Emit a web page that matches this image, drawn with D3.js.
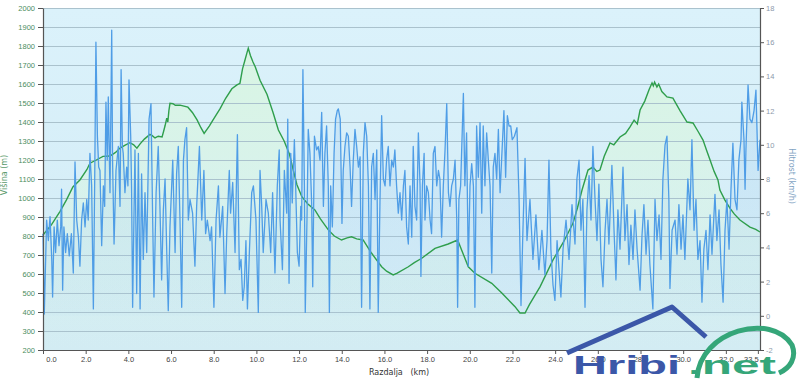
<!DOCTYPE html>
<html>
<head>
<meta charset="utf-8">
<script src="https://cdn.jsdelivr.net/npm/d3@7"></script>
<style>
body { margin: 0; background: #fff; }
svg { display: block; font-family: "DejaVu Sans", Verdana, sans-serif; }
</style>
</head>
<body>
<div id="chart"></div>
<script>
// elevation profile: [distance km, height m]
var elevation = [
	[0.00, 805], [0.40, 860], [0.80, 930], [1.10, 990], [1.40, 1058], [1.73, 1095], [2.06, 1150], [2.20, 1183],
	[2.50, 1200], [2.81, 1219], [3.14, 1221], [3.40, 1240], [3.61, 1263], [3.85, 1278], [4.08, 1291], [4.25, 1280],
	[4.40, 1262], [4.55, 1285], [4.75, 1310], [5.01, 1335], [5.12, 1328], [5.25, 1316], [5.40, 1325], [5.58, 1321],
	[5.65, 1350], [5.72, 1380], [5.80, 1420], [5.85, 1400], [5.90, 1460], [5.95, 1498], [6.09, 1496], [6.20, 1488],
	[6.42, 1489], [6.79, 1478], [7.00, 1450], [7.22, 1411], [7.40, 1370], [7.55, 1340], [7.80, 1380], [7.97, 1411],
	[8.30, 1470], [8.56, 1525], [8.85, 1575], [9.09, 1595], [9.23, 1604], [9.35, 1680], [9.45, 1720], [9.56, 1765],
	[9.62, 1788], [9.72, 1750], [9.84, 1716], [9.95, 1690], [10.17, 1620], [10.50, 1545], [10.78, 1450], [11.03, 1358],
	[11.30, 1300], [11.55, 1230], [11.72, 1150], [11.90, 1070], [12.13, 1007], [12.40, 970], [12.74, 937], [13.00, 890],
	[13.37, 832], [13.65, 800], [13.99, 779], [14.25, 790], [14.46, 796], [14.70, 785], [15.00, 779], [15.40, 709],
	[15.87, 638], [16.10, 615], [16.41, 595], [16.60, 605], [17.12, 638], [17.40, 660], [17.75, 683], [18.37, 735],
	[18.99, 758], [19.43, 779], [19.93, 638], [20.24, 604], [21.03, 551], [21.50, 500], [22.12, 428], [22.35, 395],
	[22.59, 395], [22.80, 440], [23.29, 532], [23.90, 674], [24.40, 770], [24.84, 868], [25.05, 950], [25.26, 1042],
	[25.54, 1147], [25.77, 1163], [25.95, 1140], [26.10, 1147], [26.30, 1220], [26.57, 1290], [26.75, 1280], [27.04, 1321],
	[27.30, 1340], [27.51, 1374], [27.70, 1410], [27.85, 1390], [27.98, 1463], [28.20, 1510], [28.40, 1570], [28.54, 1605],
	[28.60, 1590], [28.66, 1610], [28.77, 1584], [28.85, 1600], [29.00, 1560], [29.24, 1532], [29.52, 1526], [29.85, 1460],
	[30.18, 1400], [30.46, 1395], [30.70, 1350], [30.93, 1305], [31.10, 1250], [31.26, 1200], [31.45, 1140], [31.63, 1095],
	[31.72, 1042], [31.95, 990], [32.19, 947], [32.40, 915], [32.66, 884], [33.13, 847], [33.40, 835], [33.60, 821]
];

// speed: [distance km, km/h]
var speed = [
	[0.00, 4.8], [0.06, 0.1], [0.17, 5.6], [0.25, 4.4], [0.33, 5.8], [0.41, 3.3], [0.45, 1.1], [0.52, 5.2],
	[0.59, 3.7], [0.67, 5.6], [0.75, 4.1], [0.83, 5.2], [0.87, 7.4], [0.92, 1.5], [0.98, 5.2], [1.06, 3.7],
	[1.14, 4.8], [1.23, 3.5], [1.33, 4.8], [1.42, 2.5], [1.50, 9.0], [1.58, 5.6], [1.66, 4.6], [1.73, 2.9],
	[1.81, 5.6], [1.89, 6.6], [1.97, 5.2], [2.05, 6.8], [2.12, 5.6], [2.20, 9.5], [2.28, 7.6], [2.36, 0.4],
	[2.42, 7.6], [2.48, 16.0], [2.55, 10.5], [2.61, 8.7], [2.67, 8.5], [2.75, 4.1], [2.83, 7.6], [2.89, 6.4],
	[2.95, 12.5], [3.01, 9.1], [3.06, 12.8], [3.14, 7.2], [3.22, 16.7], [3.26, 9.1], [3.33, 4.2], [3.42, 8.5],
	[3.53, 9.9], [3.61, 6.4], [3.66, 14.4], [3.72, 9.9], [3.76, 9.5], [3.84, 7.2], [3.92, 8.7], [3.98, 7.6],
	[4.03, 13.8], [4.11, 10.5], [4.15, 7.6], [4.20, 0.5], [4.26, 5.6], [4.31, 9.7], [4.39, 1.3], [4.47, 9.5],
	[4.55, 0.4], [4.62, 8.3], [4.70, 3.3], [4.78, 7.2], [4.86, 3.7], [4.97, 11.5], [5.06, 12.4], [5.14, 5.6],
	[5.20, 1.1], [5.30, 7.2], [5.40, 9.9], [5.48, 6.4], [5.56, 2.1], [5.64, 6.2], [5.72, 8.0], [5.80, 3.7],
	[5.87, 0.3], [5.95, 5.2], [6.08, 9.1], [6.19, 3.7], [6.26, 8.3], [6.34, 9.9], [6.42, 5.6], [6.50, 0.5],
	[6.58, 9.1], [6.65, 10.3], [6.73, 11.0], [6.81, 5.6], [6.89, 6.8], [7.01, 6.0], [7.12, 2.9], [7.20, 6.4],
	[7.33, 9.9], [7.44, 5.6], [7.54, 8.5], [7.62, 4.8], [7.70, 5.6], [7.83, 4.4], [7.90, 5.2], [8.01, 0.5],
	[8.11, 5.6], [8.22, 7.6], [8.29, 4.6], [8.42, 6.4], [8.53, 1.3], [8.61, 4.8], [8.73, 8.5], [8.79, 6.0],
	[8.89, 7.8], [9.00, 3.7], [9.11, 10.6], [9.20, 2.7], [9.28, 3.3], [9.36, 0.9], [9.43, 1.7], [9.51, 4.4],
	[9.58, 0.4], [9.67, 3.7], [9.78, 7.2], [9.86, 7.6], [9.98, 5.6], [10.09, 0.2], [10.17, 8.5], [10.25, 6.4],
	[10.32, 3.7], [10.45, 6.8], [10.56, 6.0], [10.67, 3.7], [10.76, 7.2], [10.87, 2.5], [10.98, 7.6], [11.07, 9.7],
	[11.11, 5.6], [11.22, 2.7], [11.31, 8.5], [11.42, 6.0], [11.47, 11.5], [11.53, 1.9], [11.61, 9.5], [11.68, 6.6],
	[11.78, 10.3], [11.84, 7.6], [11.92, 3.7], [12.00, 2.9], [12.08, 6.4], [12.12, 5.6], [12.18, 14.4], [12.25, 7.6],
	[12.29, 0.2], [12.37, 5.6], [12.43, 10.9], [12.51, 9.5], [12.59, 6.6], [12.64, 1.7], [12.72, 10.5], [12.82, 9.7],
	[12.90, 9.9], [12.98, 9.1], [13.06, 11.9], [13.14, 6.4], [13.21, 9.5], [13.29, 11.1], [13.37, 7.6], [13.42, 0.2],
	[13.48, 7.6], [13.56, 5.2], [13.64, 9.5], [13.71, 11.5], [13.79, 12.0], [13.84, 12.1], [13.93, 11.5], [14.01, 5.4],
	[14.07, 8.5], [14.15, 9.9], [14.23, 10.7], [14.31, 10.5], [14.39, 8.7], [14.46, 6.4], [14.54, 9.1], [14.62, 10.9],
	[14.70, 9.9], [14.78, 8.7], [14.86, 9.3], [14.93, 0.5], [15.01, 9.5], [15.09, 11.3], [15.17, 10.5], [15.25, 7.6],
	[15.32, 0.4], [15.40, 8.7], [15.48, 9.5], [15.56, 6.8], [15.64, 9.7], [15.71, 0.2], [15.79, 6.6], [15.87, 11.7],
	[15.95, 8.0], [16.03, 7.6], [16.10, 9.1], [16.18, 9.9], [16.26, 7.6], [16.34, 9.1], [16.42, 8.7], [16.49, 9.7],
	[16.57, 7.6], [16.65, 6.0], [16.73, 7.2], [16.81, 5.6], [16.89, 7.6], [16.96, 8.5], [17.04, 5.2], [17.12, 4.2],
	[17.20, 7.6], [17.28, 4.6], [17.35, 9.9], [17.43, 6.4], [17.51, 5.6], [17.59, 10.7], [17.67, 7.6], [17.71, 2.3],
	[17.78, 7.6], [17.86, 9.5], [17.90, 5.6], [17.98, 7.6], [18.06, 7.2], [18.14, 5.6], [18.21, 4.8], [18.29, 9.5],
	[18.37, 9.9], [18.45, 7.6], [18.53, 8.5], [18.60, 8.0], [18.68, 4.6], [18.76, 7.6], [18.84, 9.7], [18.92, 12.4],
	[19.00, 7.2], [19.07, 6.4], [19.15, 7.6], [19.23, 8.0], [19.31, 9.1], [19.39, 5.6], [19.43, 0.5], [19.49, 6.8],
	[19.57, 7.6], [19.62, 9.7], [19.70, 13.0], [19.77, 7.6], [19.85, 10.7], [19.93, 2.9], [20.01, 7.6], [20.09, 8.9],
	[20.17, 7.6], [20.24, 0.5], [20.32, 11.1], [20.40, 8.1], [20.48, 11.3], [20.56, 6.0], [20.63, 11.1], [20.71, 7.6],
	[20.79, 10.7], [20.87, 9.1], [20.95, 7.6], [21.03, 2.5], [21.10, 8.7], [21.18, 9.5], [21.26, 8.0], [21.34, 10.9],
	[21.42, 7.2], [21.49, 9.1], [21.60, 12.0], [21.68, 8.1], [21.76, 11.7], [21.84, 11.1], [21.92, 11.1], [21.99, 10.3],
	[22.09, 10.5], [22.21, 11.0], [22.31, 6.8], [22.40, 0.6], [22.49, 5.0], [22.59, 9.2], [22.68, 4.4], [22.82, 6.8],
	[22.96, 3.3], [23.10, 5.9], [23.24, 2.7], [23.38, 5.0], [23.52, 2.4], [23.62, 4.4], [23.71, 9.1], [23.80, 3.9],
	[23.90, 1.8], [23.99, 0.9], [24.09, 4.4], [24.18, 2.7], [24.27, 1.1], [24.37, 3.9], [24.51, 5.6], [24.65, 3.3],
	[24.79, 6.5], [24.93, 4.2], [25.02, 8.0], [25.12, 9.1], [25.21, 5.0], [25.30, 6.8], [25.40, 0.5], [25.49, 6.2],
	[25.59, 8.2], [25.68, 5.6], [25.77, 9.9], [25.87, 6.8], [25.96, 4.4], [26.05, 7.7], [26.15, 3.3], [26.24, 1.7],
	[26.34, 5.0], [26.43, 6.8], [26.52, 4.2], [26.66, 8.8], [26.76, 5.0], [26.85, 2.1], [26.94, 6.2], [27.04, 3.9],
	[27.18, 8.7], [27.27, 4.4], [27.37, 6.5], [27.46, 3.0], [27.55, 5.3], [27.65, 3.3], [27.74, 6.2], [27.84, 3.9],
	[27.98, 1.5], [28.07, 4.7], [28.16, 6.5], [28.26, 3.6], [28.35, 5.6], [28.44, 3.0], [28.58, 0.4], [28.68, 6.8],
	[28.77, 4.4], [28.87, 5.9], [28.96, 3.3], [29.05, 8.0], [29.15, 10.0], [29.24, 10.5], [29.33, 6.8], [29.38, 1.6],
	[29.48, 5.0], [29.62, 5.6], [29.71, 3.6], [29.80, 6.5], [29.90, 3.9], [29.99, 5.9], [30.08, 3.3], [30.22, 8.0],
	[30.32, 6.2], [30.41, 10.3], [30.51, 5.0], [30.60, 6.8], [30.69, 3.3], [30.79, 4.4], [30.88, 0.8], [30.97, 3.9],
	[31.07, 5.0], [31.16, 2.7], [31.26, 5.9], [31.35, 3.6], [31.49, 7.1], [31.58, 4.4], [31.68, 6.2], [31.77, 3.0],
	[31.87, 0.8], [31.96, 5.0], [32.05, 6.8], [32.15, 3.9], [32.24, 7.4], [32.33, 10.1], [32.43, 6.8], [32.52, 6.2],
	[32.61, 9.1], [32.71, 10.3], [32.75, 12.5], [32.85, 10.3], [32.90, 7.4], [32.94, 9.7], [33.04, 13.5], [33.13, 11.5],
	[33.22, 11.3], [33.32, 12.0], [33.41, 13.2], [33.51, 8.5], [33.60, 10.3]
];

var elevTicks = d3.range(200, 2001, 100);
var speedTicks = d3.range(-2, 19, 2);
var distTicks = d3.range(0, 33, 2).concat([33.5]);

var W = 800, H = 379;
var plot = { left: 43, right: 760, top: 8, bottom: 350 };

var svg = d3.select("#chart").append("svg")
	.attr("width", W)
	.attr("height", H);

var x = d3.scaleLinear().domain([0, 33.6]).range([plot.left, plot.right]);
var yElev = d3.scaleLinear().domain([200, 2000]).range([plot.bottom, plot.top]);
var ySpeed = d3.scaleLinear().domain([-2, 18]).range([plot.bottom, plot.top]);

// gradients
var defs = svg.append("defs");
var bg = defs.append("linearGradient").attr("id", "bg").attr("x1", 0).attr("y1", 0).attr("x2", 0).attr("y2", 1);
bg.append("stop").attr("offset", "0%").attr("stop-color", "#dbf2fb");
bg.append("stop").attr("offset", "100%").attr("stop-color", "#d2ebf5");

var gFill = defs.append("linearGradient").attr("id", "gfill").attr("x1", 0).attr("y1", 0).attr("x2", 0).attr("y2", 1);
gFill.append("stop").attr("offset", "0%").attr("stop-color", "#d9f5e2").attr("stop-opacity", 0.95);
gFill.append("stop").attr("offset", "100%").attr("stop-color", "#d9f5e2").attr("stop-opacity", 0.1);

var bFill = defs.append("linearGradient").attr("id", "bfill").attr("x1", 0).attr("y1", 0).attr("x2", 0).attr("y2", 1);
bFill.append("stop").attr("offset", "0%").attr("stop-color", "#9cc8ee").attr("stop-opacity", 0.35);
bFill.append("stop").attr("offset", "100%").attr("stop-color", "#9cc8ee").attr("stop-opacity", 0.05);

svg.append("rect")
	.attr("x", plot.left)
	.attr("y", plot.top)
	.attr("width", plot.right - plot.left)
	.attr("height", plot.bottom - plot.top)
	.attr("fill", "url(#bg)");

// elevation area under line
var elevArea = d3.area()
	.x(function(d) { return x(d[0]); })
	.y0(plot.bottom)
	.y1(function(d) { return yElev(d[1]); });

svg.append("path")
	.datum(elevation)
	.attr("d", elevArea)
	.attr("fill", "url(#gfill)");

// Gridlines
var grid = d3.axisLeft(yElev)
	.tickValues(elevTicks)
	.tickFormat("")
	.tickSize(-(plot.right - plot.left));

svg.append("g")
	.attr("class", "grid")
	.attr("transform", "translate(" + plot.left + ",0)")
	.call(grid)
	.call(function(g) { g.select(".domain").remove(); })
	.selectAll("line")
	.attr("stroke", "#aac2cd")
	.attr("stroke-width", 1);

// speed
var speedArea = d3.area()
	.x(function(d) { return x(d[0]); })
	.y0(ySpeed(0))
	.y1(function(d) { return ySpeed(d[1]); });

svg.append("path")
	.datum(speed)
	.attr("d", speedArea)
	.attr("fill", "url(#bfill)");

var elevLine = d3.line()
	.x(function(d) { return x(d[0]); })
	.y(function(d) { return yElev(d[1]); });

svg.append("path")
	.datum(elevation)
	.attr("d", elevLine)
	.attr("fill", "none")
	.attr("stroke", "#2f9e4c")
	.attr("stroke-width", 1.4);

var speedLine = d3.line()
	.x(function(d) { return x(d[0]); })
	.y(function(d) { return ySpeed(d[1]); });

svg.append("path")
	.datum(speed)
	.attr("d", speedLine)
	.attr("fill", "none")
	.attr("stroke", "#4f9de6")
	.attr("stroke-width", 1.3)
	.attr("stroke-linejoin", "round");

// Axis
var axisColor = "#555";

var leftAxis = svg.append("g")
	.attr("transform", "translate(" + plot.left + ",0)")
	.call(d3.axisLeft(yElev).tickValues(elevTicks).tickSize(5).tickPadding(3).tickSizeOuter(0)
		.tickFormat(function(d) { return String(d); }));
leftAxis.selectAll("text").attr("fill", "#4b8d5d").style("font-size", "7.5px");

var rightAxis = svg.append("g")
	.attr("transform", "translate(" + plot.right + ",0)")
	.call(d3.axisRight(ySpeed).tickValues(speedTicks).tickSize(4).tickPadding(2).tickSizeOuter(0)
		.tickFormat(function(d) { return String(d); }));
rightAxis.selectAll("text").attr("fill", "#8c9aab").style("font-size", "7.5px");

var bottomAxis = svg.append("g")
	.attr("transform", "translate(0," + plot.bottom + ")")
	.call(d3.axisBottom(x).tickValues(distTicks).tickSize(4).tickPadding(3).tickSizeOuter(0)
		.tickFormat(d3.format(".1f")));
bottomAxis.selectAll("text").attr("fill", "#444").style("font-size", "7.5px")
	.attr("dx", function(d) { return d === 0 ? 8 : (d === 33.5 ? -7 : 0); });

[leftAxis, rightAxis, bottomAxis].forEach(function(a) {
	a.select(".domain").attr("stroke", axisColor).attr("stroke-width", 1.2);
	a.selectAll(".tick line").attr("stroke", axisColor);
});

// axis titles
svg.append("text")
	.attr("transform", "translate(7,175) rotate(-90)")
	.attr("text-anchor", "middle")
	.attr("fill", "#5a9a6c")
	.style("font-size", "8px")
	.text("Višina (m)");

svg.append("text")
	.attr("transform", "translate(789,176) rotate(90)")
	.attr("text-anchor", "middle")
	.attr("fill", "#7fa3c3")
	.style("font-size", "8px")
	.text("Hitrost (km/h)");

svg.append("text")
	.attr("x", 399)
	.attr("y", 375)
	.attr("text-anchor", "middle")
	.attr("fill", "#333")
	.style("font-size", "8px")
	.style("white-space", "pre")
	.attr("xml:space", "preserve")
	.text("Razdalja   (km)");

// Hribi.net watermark
var logo = svg.append("g");
logo.append("path")
	.attr("d", "M567,353 L672,307 L706,337")
	.attr("fill", "none")
	.attr("stroke", "#3b57a8")
	.attr("stroke-width", 5)
	.attr("stroke-linejoin", "round");
logo.append("path")
	.attr("d", "M697,378 C700,330 772,312 792,345 C797,358 790,368 779,373")
	.attr("fill", "none")
	.attr("stroke", "#35a679")
	.attr("stroke-width", 5);
logo.append("text")
	.attr("x", 573).attr("y", 374)
	.attr("textLength", 107).attr("lengthAdjust", "spacingAndGlyphs")
	.attr("fill", "#3b57a8")
	.style("font-family", "'Liberation Sans', Arial, sans-serif")
	.style("font-weight", "bold")
	.style("font-size", "26px")
	.text("Hribi");
logo.append("text")
	.attr("x", 688).attr("y", 374)
	.attr("textLength", 88).attr("lengthAdjust", "spacingAndGlyphs")
	.attr("fill", "#35a679")
	.style("font-family", "'Liberation Sans', Arial, sans-serif")
	.style("font-weight", "bold")
	.style("font-size", "26px")
	.text(".net");
</script>
</body>
</html>
